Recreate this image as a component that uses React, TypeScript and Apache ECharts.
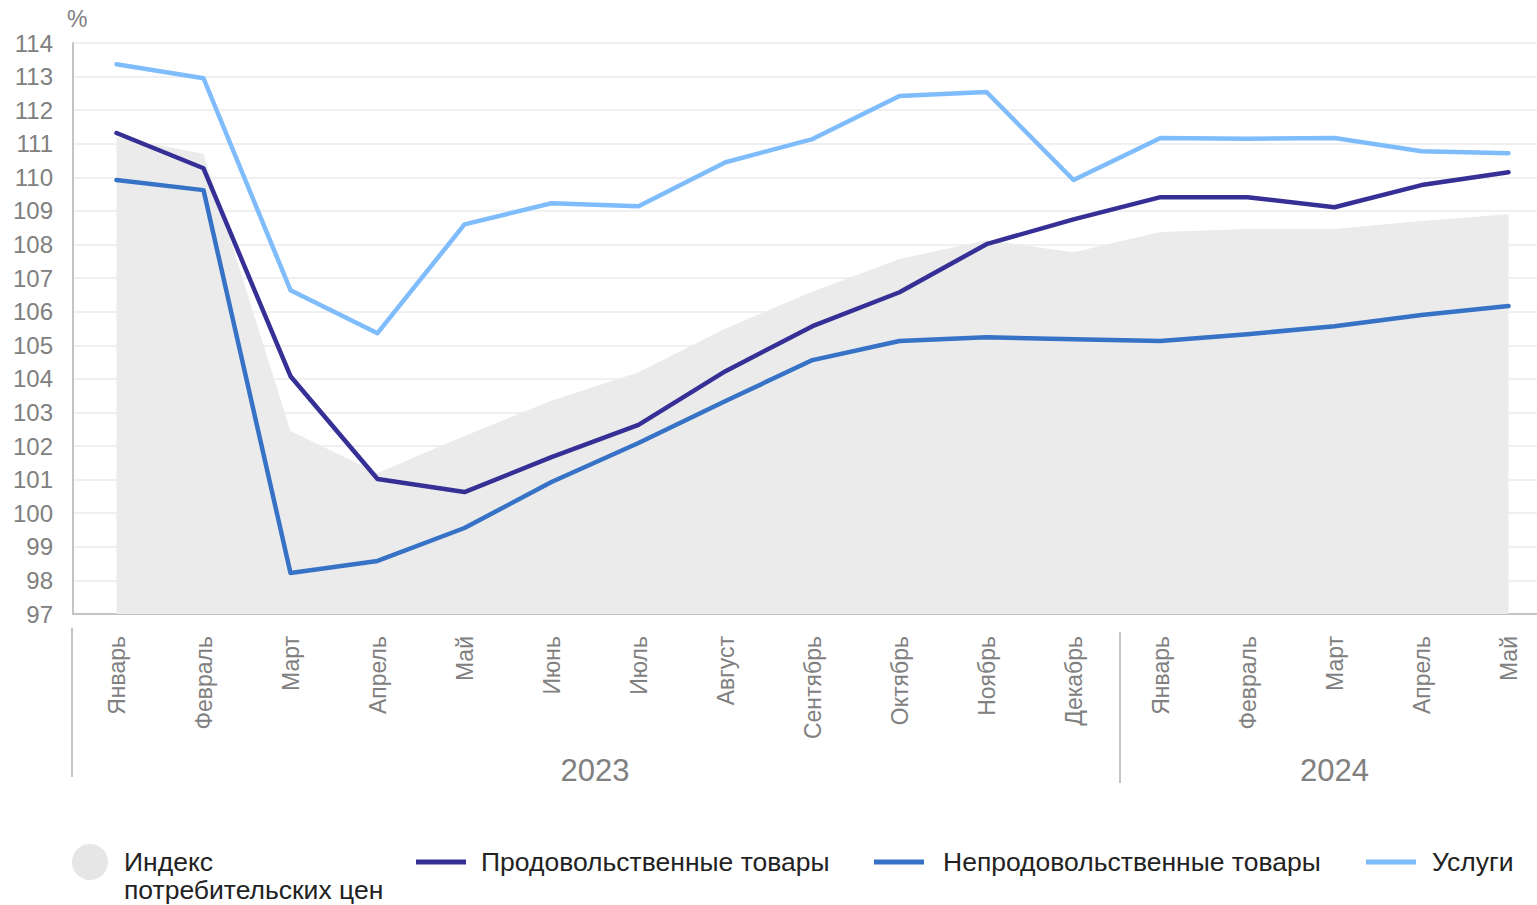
import React, { useEffect, useRef } from "react";
import * as echarts from "echarts";

const months = [
  "Январь", "Февраль", "Март", "Апрель", "Май", "Июнь", "Июль", "Август",
  "Сентябрь", "Октябрь", "Ноябрь", "Декабрь",
  "Январь", "Февраль", "Март", "Апрель", "Май",
];
const years = ["2023", "2024"];
const yearStart = [0, 12];
const yearEnd = [11, 16];

const cpiName = "Индекс потребительских цен";
const foodName = "Продовольственные товары";
const nonFoodName = "Непродовольственные товары";
const servicesName = "Услуги";

const cpi = [111.2, 110.7, 102.45, 101.2, 102.3, 103.35, 104.2, 105.5, 106.6, 107.57, 108.13, 107.77, 108.37, 108.46, 108.46, 108.7, 108.9];
const food = [111.32, 110.27, 104.08, 101.02, 100.63, 101.67, 102.63, 104.23, 105.57, 106.58, 108.01, 108.75, 109.41, 109.41, 109.11, 109.77, 110.15];
const nonFood = [109.92, 109.62, 98.22, 98.58, 99.56, 100.93, 102.09, 103.34, 104.56, 105.13, 105.24, 105.18, 105.13, 105.33, 105.57, 105.9, 106.17];
const services = [113.37, 112.95, 106.64, 105.36, 108.6, 109.23, 109.14, 110.45, 111.14, 112.42, 112.54, 109.92, 111.17, 111.15, 111.17, 110.78, 110.72];

const yMin = 97;
const yMax = 114;

const C_FOOD = "#363096";
const C_NONFOOD = "#3672c6";
const C_SERV = "#7fbcfb";
const C_AREA = "#ebebeb";
const GRAY = "#808080";
const FONT = "'Liberation Sans', Arial, sans-serif";

export default function App() {
  const ref = useRef<HTMLDivElement>(null);

  useEffect(() => {
    if (!ref.current) return;
    const chart = echarts.init(ref.current, undefined, { renderer: "svg" });

    const lineSeries = (name: string, data: number[], color: string) => ({
      name,
      type: "line",
      data,
      symbol: "none",
      itemStyle: { color },
      lineStyle: { color, width: 4.5, cap: "round", join: "round" },
      z: 3,
    });

    const lineLegend = (name: string, left: number, gap: number) => ({
      data: [{ name, icon: "rect" }],
      left,
      top: 847,
      padding: 0,
      itemWidth: 50,
      itemHeight: 5,
      itemGap: 0,
      selectedMode: false,
      textStyle: {
        fontSize: 26.5,
        color: "#222222",
        fontFamily: FONT,
        lineHeight: 30,
        padding: [0, 0, 0, gap],
      },
    });

    chart.setOption({
      animation: false,
      backgroundColor: "#ffffff",
      grid: {
        left: 73,
        width: 1479,
        top: 43,
        bottom: 291,
        containLabel: false,
        outerBoundsMode: "none",
      },
      xAxis: {
        type: "category",
        data: months,
        boundaryGap: true,
        axisLine: { show: true, lineStyle: { color: "#c4c4c4", width: 2 } },
        axisTick: { show: false },
        axisLabel: {
          rotate: 90,
          interval: 0,
          margin: 22,
          fontSize: 23,
          color: GRAY,
          fontFamily: FONT,
        },
        splitLine: { show: false },
      },
      yAxis: {
        type: "value",
        min: yMin,
        max: yMax,
        interval: 1,
        name: "%",
        nameLocation: "end",
        nameGap: 13,
        nameTextStyle: { fontSize: 23, color: GRAY, fontFamily: FONT, align: "left", padding: [0, 0, 0, -6] },
        axisLine: { show: true, lineStyle: { color: "#c4c4c4", width: 2 } },
        axisTick: { show: false },
        axisLabel: { fontSize: 24, color: GRAY, fontFamily: FONT, margin: 20 },
        splitLine: { show: true, lineStyle: { color: "#ebebeb", width: 1.5 } },
      },
      legend: [
        {
          data: [{ name: cpiName, icon: "circle" }],
          left: 72,
          top: 820,
          padding: 0,
          itemWidth: 36,
          itemHeight: 36,
          itemGap: 0,
          selectedMode: false,
          formatter: () => "\nИндекс\nпотребительских цен",
          textStyle: {
            fontSize: 26.5,
            color: "#222222",
            fontFamily: FONT,
            lineHeight: 28,
            padding: [0, 0, 0, 11],
          },
        },
        lineLegend(foodName, 416, 10),
        lineLegend(nonFoodName, 874, 14),
        lineLegend(servicesName, 1366, 11),
      ],
      series: [
        {
          name: cpiName,
          type: "line",
          data: cpi,
          symbol: "none",
          itemStyle: { color: "#e6e6e6" },
          lineStyle: { width: 0, color: C_AREA },
          areaStyle: { color: C_AREA, opacity: 1 },
          z: 1,
        },
        lineSeries(servicesName, services, C_SERV),
        lineSeries(nonFoodName, nonFood, C_NONFOOD),
        lineSeries(foodName, food, C_FOOD),
      ],
    });

    // Year grouping labels and separators, positioned from the axis scale
    const px = (i: number) => chart.convertToPixel({ xAxisIndex: 0 }, i) as number;
    const band = px(1) - px(0);
    const graphics: any[] = [];
    const boundaries = [px(0) - band / 2 - 1, (px(11) + px(12)) / 2 + 3];
    boundaries.forEach((x, k) => {
      graphics.push({
        type: "line",
        shape: { x1: x, y1: k === 0 ? 628 : 632, x2: x, y2: k === 0 ? 777 : 783 },
        style: { stroke: "#c4c4c4", lineWidth: 2 },
        silent: true,
      });
    });
    years.forEach((y, k) => {
      const cx = (px(yearStart[k]) + px(yearEnd[k])) / 2;
      graphics.push({
        type: "text",
        x: cx,
        y: 770,
        style: {
          text: y,
          fontSize: 31,
          fill: GRAY,
          fontFamily: FONT,
          align: "center",
          verticalAlign: "middle",
        },
        silent: true,
      });
    });
    chart.setOption({ graphic: graphics });

    return () => chart.dispose();
  }, []);

  return (
    <div
      ref={ref}
      style={{ position: "absolute", left: 0, top: 0, width: 1537, height: 905, background: "#fff" }}
    />
  );
}
